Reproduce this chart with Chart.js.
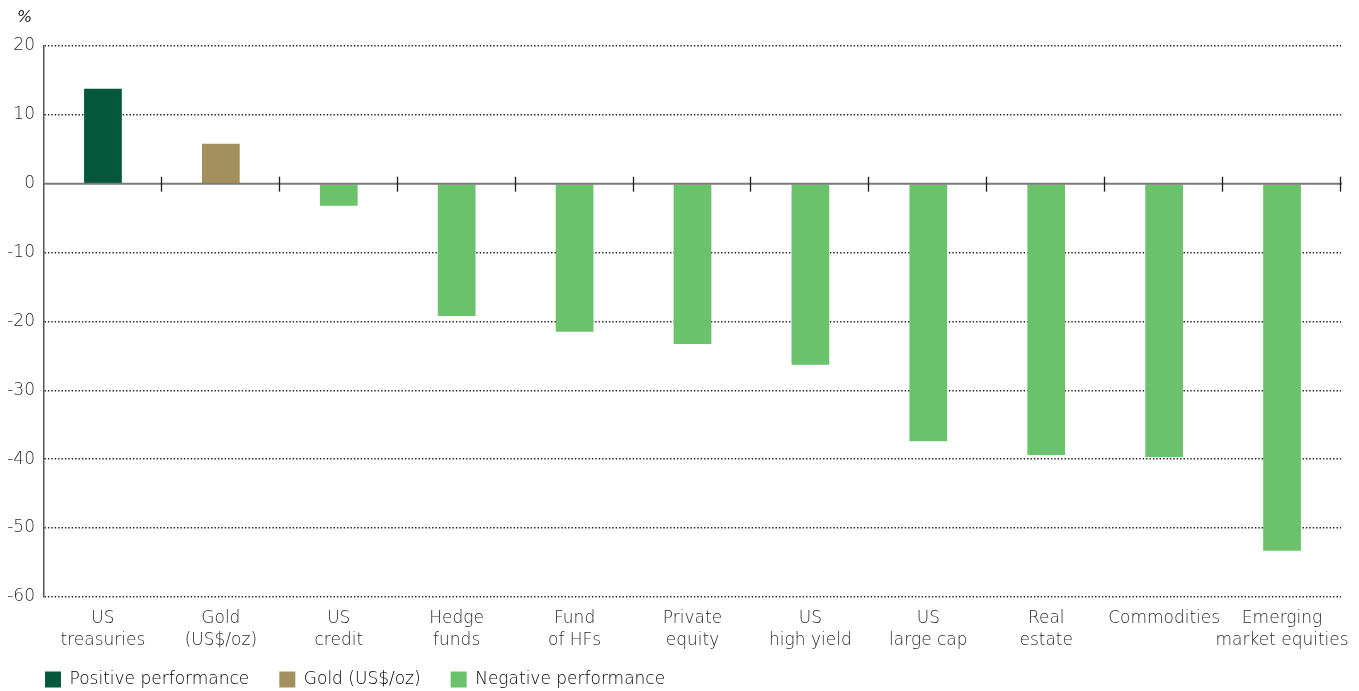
<!DOCTYPE html>
<html>
<head>
<meta charset="utf-8">
<script src="https://cdn.jsdelivr.net/npm/chart.js@4.4.1/dist/chart.umd.min.js"></script>
<style>
  html, body { margin: 0; padding: 0; background: #fff; }
  #wrap { width: 1359px; height: 691px; position: relative; }
</style>
</head>
<body>
<div id="wrap"><canvas id="perf"></canvas></div>
<script>
/* --------------- Data --------------------- */
const categories = [
    ["US", "treasuries"], ["Gold", "(US$/oz)"], ["US", "credit"], ["Hedge", "funds"],
    ["Fund", "of HFs"], ["Private", "equity"], ["US", "high yield"], ["US", "large cap"],
    ["Real", "estate"], ["Commodities"], ["Emerging", "market equities"]
];
const returns = [13.8, 5.8, -3.2, -19.2, -21.5, -23.3, -26.3, -37.4, -39.4, -39.7, -53.3];
// 0 = positive, 1 = gold, 2 = negative
const groupOf = [0, 1, 2, 2, 2, 2, 2, 2, 2, 2, 2];
const groupNames = ["Positive performance", "Gold (US$/oz)", "Negative performance"];
const groupColors = ["#03573b", "#a48f5f", "#6ac26b"];
const yTicks = [20, 10, 0, -10, -20, -30, -40, -50, -60];

const FONT = "'DejaVu Sans', 'Open Sans', sans-serif";
const TEXT = "#2b2b2b";

/* --------------- Zero line with category separators --------------------- */
const zeroLine = {
    id: "zeroLine",
    afterLayout(chart) {
        // line the legend up with the y axis
        const lg = chart.legend;
        lg.left += 15;
        lg.right += 15;
        lg.top -= 14;
    },
    afterDatasetsDraw(chart) {
        const { ctx, chartArea, scales: { x, y } } = chart;
        const y0 = y.getPixelForValue(0);
        ctx.save();
        ctx.strokeStyle = "#7a7a7a";
        ctx.lineWidth = 2;
        ctx.beginPath();
        ctx.moveTo(chartArea.left, y0);
        ctx.lineTo(chartArea.right + 1, y0);
        ctx.stroke();
        const half = (x.getPixelForValue(1) - x.getPixelForValue(0)) / 2;
        ctx.strokeStyle = "#1e1e1e";
        ctx.lineWidth = 1.3;
        for (let i = 0; i < categories.length; i++) {
            const bx = Math.round(x.getPixelForValue(i) + half) - 0.5;
            ctx.beginPath();
            ctx.moveTo(bx, y0 - 7);
            ctx.lineTo(bx, y0 + 8);
            ctx.stroke();
        }
        // unit label
        ctx.fillStyle = TEXT;
        ctx.font = "italic 300 16px " + FONT;
        ctx.textBaseline = "middle";
        ctx.fillText("%", 17, 18);
        ctx.restore();
    }
};

/* --------------- Chart --------------------- */
new Chart(document.getElementById("perf"), {
    type: "bar",
    plugins: [zeroLine],
    data: {
        labels: categories,
        datasets: [{
            data: returns,
            backgroundColor: groupOf.map(g => groupColors[g]),
            barPercentage: 0.32,
            categoryPercentage: 1,
        }],
    },
    options: {
        responsive: true,
        maintainAspectRatio: false,
        animation: false,
        layout: { padding: { top: 46, right: 18, left: 0, bottom: 0 } },
        scales: {
            x: {
                grid: { display: false },
                border: { display: false },
                ticks: {
                    color: TEXT,
                    font: { family: FONT, size: 17, weight: 300, lineHeight: 1.3 },
                    padding: 3,
                    maxRotation: 0,
                    autoSkip: false,
                },
            },
            y: {
                min: -60,
                max: 20,
                afterFit(scale) { scale.width = 44; },
                afterBuildTicks(scale) { scale.ticks = yTicks.map(v => ({ value: v })); },
                grid: {
                    drawTicks: false,
                    color: ctx => ctx.tick && ctx.tick.value === 0 ? "rgba(0,0,0,0)" : "#222",
                    lineWidth: 1.4,
                },
                border: { display: true, color: "#555", width: 1.5, dash: [1.4, 2] },
                ticks: {
                    color: TEXT,
                    font: { family: FONT, size: 17, weight: 300 },
                    padding: 9,
                },
            },
        },
        plugins: {
            tooltip: { enabled: false },
            legend: {
                position: "bottom",
                align: "start",
                maxHeight: 36,
                labels: {
                    boxWidth: 16,
                    boxHeight: 16,
                    padding: 30,
                    color: TEXT,
                    font: { family: FONT, size: 17, weight: 300 },
                    generateLabels: () => groupNames.map((name, i) => ({
                        text: name,
                        fillStyle: groupColors[i],
                        strokeStyle: groupColors[i],
                        lineWidth: 0,
                        hidden: false,
                        datasetIndex: 0,
                    })),
                },
            },
        },
    },
});
</script>
</body>
</html>
